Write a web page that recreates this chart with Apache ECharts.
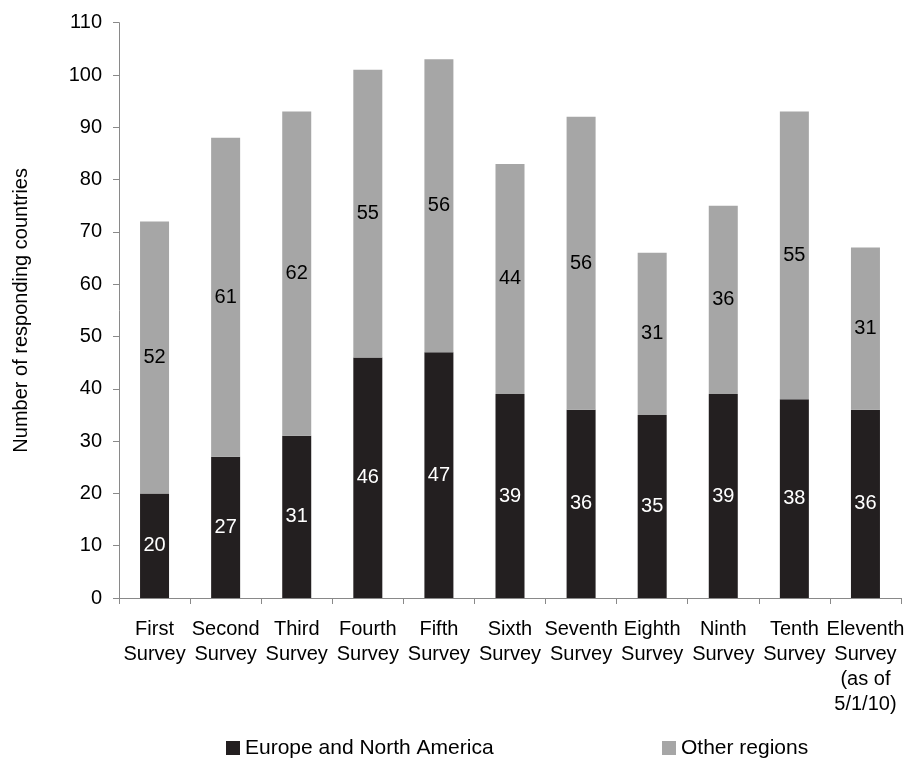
<!DOCTYPE html>
<html>
<head>
<meta charset="utf-8">
<script src="https://cdn.jsdelivr.net/npm/echarts@6/dist/echarts.min.js"></script>
<style>
html,body{margin:0;padding:0;background:#fff;}
#chart{width:908px;height:758px;}
</style>
</head>
<body>
<div id="chart"></div>
<script>
var categories = ['First\nSurvey','Second\nSurvey','Third\nSurvey','Fourth\nSurvey','Fifth\nSurvey','Sixth\nSurvey','Seventh\nSurvey','Eighth\nSurvey','Ninth\nSurvey','Tenth\nSurvey','Eleventh\nSurvey\n(as of\n5/1/10)'];
var europeNA = [20,27,31,46,47,39,36,35,39,38,36];
var otherRegions = [52,61,62,55,56,44,56,31,36,55,31];
var seriesNames = ['Europe and North America','Other regions'];
var yAxisName = 'Number of responding countries';

var FONT = '"Liberation Sans", Arial, sans-serif';
var chart = echarts.init(document.getElementById('chart'), null, {renderer:'canvas'});
chart.setOption({
  animation:false,
  backgroundColor:'#ffffff',
  textStyle:{fontFamily:FONT},
  grid:{left:119, right:7, top:22.7, bottom:160, containLabel:false},
  legend:[
    {data:[seriesNames[0]], left:226, top:737, padding:0, itemWidth:14, itemHeight:14, itemGap:10,
     icon:'rect', textStyle:{fontFamily:FONT, fontSize:21, lineHeight:22, color:'#000'}},
    {data:[seriesNames[1]], left:662, top:737, padding:0, itemWidth:14, itemHeight:14, itemGap:10,
     icon:'rect', textStyle:{fontFamily:FONT, fontSize:21, lineHeight:22, color:'#000'}}
  ],
  xAxis:{
    type:'category', data:categories, boundaryGap:true,
    axisLine:{lineStyle:{color:'#898989', width:1}},
    axisTick:{show:true, length:6, alignWithLabel:false, lineStyle:{color:'#898989'}},
    axisLabel:{interval:0, margin:19, fontFamily:FONT, fontSize:20, lineHeight:25, color:'#000'},
    splitLine:{show:false}
  },
  yAxis:{
    type:'value', min:0, max:110, interval:10,
    name:yAxisName, nameLocation:'middle', nameGap:88, nameRotate:90,
    nameTextStyle:{fontFamily:FONT, fontSize:20, color:'#000'},
    axisLine:{show:true, lineStyle:{color:'#898989', width:1}},
    axisTick:{show:true, length:6, lineStyle:{color:'#898989'}},
    axisLabel:{margin:17, fontFamily:FONT, fontSize:20, color:'#000'},
    splitLine:{show:false}
  },
  series:[
    {name:seriesNames[0], type:'bar', stack:'total', data:europeNA, barWidth:29,
     itemStyle:{color:'#231f20'},
     label:{show:true, position:'inside', fontFamily:FONT, fontSize:20, color:'#ffffff'}},
    {name:seriesNames[1], type:'bar', stack:'total', data:otherRegions, barWidth:29,
     itemStyle:{color:'#a6a6a6'},
     label:{show:true, position:'inside', fontFamily:FONT, fontSize:20, color:'#000000'}}
  ]
});
</script>
</body>
</html>
